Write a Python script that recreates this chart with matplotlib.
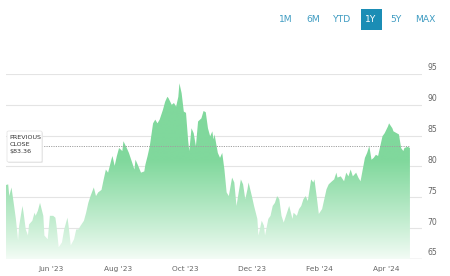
import matplotlib
matplotlib.use("Agg")
import matplotlib.pyplot as plt
import matplotlib.dates as mdates
from matplotlib.patches import FancyBboxPatch, Polygon
import numpy as np
import pandas as pd

dates = [
    "2023-04-21", "2023-04-23", "2023-04-24", "2023-04-26", "2023-04-28", "2023-04-30",
    "2023-05-02", "2023-05-03", "2023-05-06", "2023-05-07", "2023-05-09", "2023-05-11",
    "2023-05-12", "2023-05-15", "2023-05-17", "2023-05-18", "2023-05-20", "2023-05-22",
    "2023-05-25", "2023-05-26", "2023-05-29", "2023-05-31", "2023-06-03", "2023-06-05",
    "2023-06-06", "2023-06-08", "2023-06-11", "2023-06-13", "2023-06-16", "2023-06-17",
    "2023-06-19", "2023-06-22", "2023-06-24", "2023-06-26", "2023-06-28", "2023-07-01",
    "2023-07-03", "2023-07-05", "2023-07-07", "2023-07-10", "2023-07-12", "2023-07-14",
    "2023-07-17", "2023-07-19", "2023-07-21", "2023-07-23", "2023-07-26", "2023-07-27",
    "2023-07-29", "2023-07-31", "2023-08-02", "2023-08-05", "2023-08-06", "2023-08-09",
    "2023-08-11", "2023-08-14", "2023-08-16", "2023-08-17", "2023-08-19", "2023-08-22",
    "2023-08-25", "2023-08-26", "2023-08-28", "2023-08-30", "2023-09-02", "2023-09-04",
    "2023-09-06", "2023-09-08", "2023-09-11", "2023-09-13", "2023-09-15", "2023-09-16",
    "2023-09-19", "2023-09-21", "2023-09-23", "2023-09-25", "2023-09-26", "2023-09-28",
    "2023-09-30", "2023-10-02", "2023-10-04", "2023-10-05", "2023-10-07", "2023-10-09",
    "2023-10-11", "2023-10-13", "2023-10-16", "2023-10-18", "2023-10-20", "2023-10-22",
    "2023-10-24", "2023-10-26", "2023-10-27", "2023-10-28", "2023-10-31", "2023-11-02",
    "2023-11-04", "2023-11-06", "2023-11-08", "2023-11-10", "2023-11-13", "2023-11-15",
    "2023-11-17", "2023-11-19", "2023-11-21", "2023-11-23", "2023-11-25", "2023-11-27",
    "2023-11-28", "2023-12-01", "2023-12-03", "2023-12-06", "2023-12-07", "2023-12-10",
    "2023-12-12", "2023-12-13", "2023-12-16", "2023-12-18", "2023-12-20", "2023-12-22",
    "2023-12-24", "2023-12-26", "2023-12-28", "2023-12-30", "2024-01-02", "2024-01-04",
    "2024-01-07", "2024-01-08", "2024-01-11", "2024-01-13", "2024-01-15", "2024-01-17",
    "2024-01-19", "2024-01-21", "2024-01-24", "2024-01-26", "2024-01-27", "2024-01-29",
    "2024-01-31", "2024-02-03", "2024-02-05", "2024-02-07", "2024-02-09", "2024-02-12",
    "2024-02-14", "2024-02-16", "2024-02-17", "2024-02-20", "2024-02-23", "2024-02-25",
    "2024-02-27", "2024-02-29", "2024-03-02", "2024-03-05", "2024-03-07", "2024-03-09",
    "2024-03-11", "2024-03-13", "2024-03-15", "2024-03-17", "2024-03-19", "2024-03-21",
    "2024-03-23", "2024-03-25", "2024-03-27", "2024-03-29", "2024-03-31", "2024-04-03",
    "2024-04-04", "2024-04-07", "2024-04-08", "2024-04-11", "2024-04-13", "2024-04-15",
    "2024-04-17", "2024-04-18", "2024-04-21", "2024-04-23",
]
prices = [
    77.0, 77.1, 75.2, 76.6, 74.1, 71.5,
    68.0, 70.4, 73.6, 72.5, 69.8, 68.8,
    70.6, 71.2, 72.5, 72.0, 72.8, 74.1,
    72.0, 68.8, 68.2, 72.0, 72.0, 71.7,
    70.4, 66.9, 67.7, 69.8, 71.7, 70.4,
    67.2, 68.2, 69.8, 69.8, 70.4, 71.2,
    72.5, 74.1, 75.2, 76.6, 75.2, 75.8,
    76.2, 77.9, 79.5, 79.0, 81.1, 81.7,
    80.1, 81.7, 83.0, 82.5, 84.1, 83.0,
    82.2, 80.6, 79.5, 81.1, 80.3, 79.0,
    79.2, 80.3, 81.7, 83.3, 87.0, 87.6,
    87.0, 87.6, 89.2, 90.5, 91.3, 91.1,
    90.0, 90.3, 89.7, 91.3, 93.5, 91.9,
    88.9, 88.7, 84.1, 82.5, 86.2, 85.4,
    83.3, 87.3, 87.8, 89.0, 88.8, 86.2,
    84.9, 85.7, 84.4, 85.2, 82.2, 81.4,
    82.2, 79.5, 75.8, 75.2, 78.2, 77.4,
    73.6, 75.8, 77.9, 77.1, 74.7, 76.3,
    77.4, 75.2, 73.6, 71.5, 68.8, 71.2,
    70.4, 68.8, 71.5, 72.0, 73.6, 74.1,
    75.2, 74.7, 72.0, 70.9, 72.5, 73.6,
    71.5, 72.5, 72.0, 73.1, 73.6, 74.7,
    75.2, 74.4, 77.9, 77.4, 77.9, 75.2,
    72.3, 73.1, 74.7, 76.3, 77.1, 77.6,
    77.9, 79.0, 78.2, 78.4, 77.6, 79.0,
    78.4, 79.5, 78.4, 79.0, 78.2, 77.6,
    79.5, 81.4, 82.2, 83.3, 81.1, 81.4,
    81.9, 81.7, 83.3, 84.9, 85.4, 86.5,
    87.0, 86.2, 85.7, 85.4, 85.2, 83.0,
    82.5, 83.0, 83.2, 83.0,
]
previous_close = 83.36
y_ticks = [65, 70, 75, 80, 85, 90, 95]
x_tick_dates = ["2023-06-01", "2023-08-01", "2023-10-01", "2023-12-01", "2024-02-01", "2024-04-01"]
x_tick_labels = ["Jun '23", "Aug '23", "Oct '23", "Dec '23", "Feb '24", "Apr '24"]
ranges = ["1M", "6M", "YTD", "1Y", "5Y", "MAX"]
selected_range = "1Y"

W, H = 450, 276
fig = plt.figure(figsize=(W / 100, H / 100), dpi=100)
fig.patch.set_facecolor("white")

ax_l, ax_r, ax_t, ax_b = 6, 422, 74, 259
ax = fig.add_axes([ax_l / W, 1 - ax_b / H, (ax_r - ax_l) / W, (ax_b - ax_t) / H])
ax.set_facecolor("white")

x = mdates.date2num(pd.to_datetime(dates))
y = np.array(prices)
ymin, ymax = 65, 95
ax.set_ylim(ymin, ymax)
ax.set_xlim(mdates.date2num(pd.Timestamp("2023-04-21")), mdates.date2num(pd.Timestamp("2024-05-04")))

# grid lines
for t in y_ticks:
    ax.axhline(t, color="#e4e4e4", lw=0.8, zorder=0)
ax.axhline(ymin, color="#d8d8d8", lw=1.0, zorder=0)

# gradient fill: saturated green in upper part, fading to near white at the bottom
top = np.array([128, 216, 156]) / 255.0
bot = np.array([244, 252, 246]) / 255.0
g_top = 94.0
n = 256
vals = np.linspace(g_top, ymin, n)
img_rows = np.zeros((n, 1, 3))
for r, v in enumerate(vals):
    w = np.clip((v - ymin) / (81.0 - ymin), 0, 1) ** 0.9
    img_rows[r, 0, :] = bot + (top - bot) * w
im = ax.imshow(img_rows, extent=[x[0], x[-1], ymin, g_top], aspect="auto",
               origin="upper", zorder=1, interpolation="bilinear")
poly_xy = np.column_stack([np.concatenate([[x[0]], x, [x[-1]]]),
                           np.concatenate([[ymin], y, [ymin]])])
poly = Polygon(poly_xy, closed=True, facecolor="none", edgecolor="none",
               transform=ax.transData)
ax.add_patch(poly)
im.set_clip_path(poly)

# previous close dotted line
ax.plot([mdates.date2num(pd.Timestamp("2023-05-08")), x[-1]], [previous_close, previous_close],
        color="#a0a0a0", lw=0.7, ls=(0, (1.2, 1.2)), zorder=3)

ax.set_yticks([])
ax.set_xticks(mdates.date2num(pd.to_datetime(x_tick_dates)))
ax.set_xticklabels(x_tick_labels, fontsize=5.3, color="#666666")
ax.tick_params(axis="x", length=0, pad=5)
for s in ax.spines.values():
    s.set_visible(False)

# y labels on the right, slightly above gridlines
for t in y_ticks:
    ax.text(1.0 + 10 / (ax_r - ax_l), t + 0.25, str(t), transform=ax.get_yaxis_transform(),
            ha="center", va="bottom", fontsize=5.6, color="#666666")

# previous close box
box_x0, box_y0, box_w, box_h = 7, 131, 35, 31
shadow = FancyBboxPatch((box_x0 / W + 0.002, 1 - (box_y0 + box_h + 1) / H), box_w / W, box_h / H,
                        boxstyle="round,pad=0,rounding_size=0.004", transform=fig.transFigure,
                        facecolor="#e8e8e8", edgecolor="none", zorder=4)
fig.patches.append(shadow)
box = FancyBboxPatch((box_x0 / W, 1 - (box_y0 + box_h) / H), box_w / W, box_h / H,
                     boxstyle="round,pad=0,rounding_size=0.004", transform=fig.transFigure,
                     facecolor="white", edgecolor="#e2e2e2", lw=0.5, zorder=5)
fig.patches.append(box)
fig.text(9.5 / W, 1 - 135 / H, "PREVIOUS\nCLOSE\n$%.2f" % previous_close, ha="left", va="top",
         fontsize=4.6, color="#333333", linespacing=1.55, zorder=6)

# range selector buttons
btn_x = [286, 313, 342, 371, 396, 425]
for label, bx in zip(ranges, btn_x):
    if label == selected_range:
        rect = FancyBboxPatch(((bx - 10) / W, 1 - 30 / H), 21 / W, 21 / H,
                              boxstyle="square,pad=0", transform=fig.transFigure,
                              facecolor="#1b8db5", edgecolor="none")
        fig.patches.append(rect)
        fig.text(bx / W, 1 - 19.5 / H, label, ha="center", va="center", fontsize=6.6,
                 color="white")
    else:
        fig.text(bx / W, 1 - 19.5 / H, label, ha="center", va="center", fontsize=6.6,
                 color="#3f9cc2")

fig.savefig("out.png", dpi=100, facecolor="white")
